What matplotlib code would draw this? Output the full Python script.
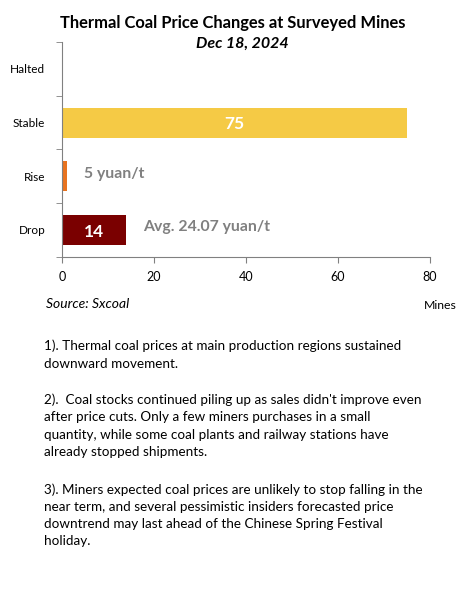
import matplotlib.pyplot as plt

categories = ['Halted', 'Stable', 'Rise', 'Drop']
mines = [0, 75, 1, 14]
bar_colors = ['#F5CA45', '#F5CA45', '#E8731F', '#7A0000']
inside_labels = ['', '75', '', '14']
side_notes = ['', '', '5 yuan/t', 'Avg. 24.07 yuan/t']
side_pos = [0, 0, 4.7, 17.6]
xticks = [0, 20, 40, 60, 80]

notes = [
    "1). Thermal coal prices at main production regions sustained\ndownward movement.",
    "2).  Coal stocks continued piling up as sales didn't improve even\nafter price cuts. Only a few miners purchases in a small\nquantity, while some coal plants and railway stations have\nalready stopped shipments.",
    "3). Miners expected coal prices are unlikely to stop falling in the\nnear term, and several pessimistic insiders forecasted price\ndowntrend may last ahead of the Chinese Spring Festival\nholiday.",
]

plt.rcParams['font.family'] = ['Lato', 'DejaVu Sans']

fig = plt.figure(figsize=(4.66, 5.93), dpi=100)
ax = fig.add_axes([0.133, 0.567, 0.79, 0.362])

ypos = list(range(len(categories)))
ax.barh(ypos, mines, height=0.56, color=bar_colors)
ax.set_ylim(3.5, -0.5)
ax.set_xlim(0, 80)
ax.set_xticks(xticks)
ax.set_yticks(ypos)
ax.set_yticklabels(categories, fontsize=8.5)
ax.set_yticks([-0.5, 0.5, 1.5, 2.5, 3.5], minor=True)
ax.tick_params(axis='y', which='major', length=0, pad=12)
ax.tick_params(axis='y', which='minor', length=4, color='#808080')
ax.tick_params(axis='x', length=4, color='#808080', labelsize=9, pad=6)
for s in ['top', 'right']:
    ax.spines[s].set_visible(False)
for s in ['left', 'bottom']:
    ax.spines[s].set_color('#808080')

for i in ypos:
    if inside_labels[i]:
        ax.text(mines[i] / 2, i + 0.03, inside_labels[i], color='white', fontsize=12.5,
                fontweight='bold', ha='center', va='center')
    if side_notes[i]:
        ax.text(side_pos[i], i - 0.05, side_notes[i], color='#808080', fontsize=11.3,
                fontweight='bold', ha='left', va='center')

fig.text(0.5, 0.962, 'Thermal Coal Price Changes at Surveyed Mines', ha='center',
         va='center', fontsize=11.9, fontweight='bold')
fig.text(0.519, 0.926, 'Dec 18, 2024', ha='center', va='center', fontsize=11.5,
         fontweight='bold', style='italic')
fig.text(0.099, 0.487, 'Source: Sxcoal', ha='left', va='center', fontsize=10, style='italic')
fig.text(0.91, 0.484, 'Mines', ha='left', va='center', fontsize=8.8)

note_tops = [0.427, 0.336, 0.185]
for n, y in zip(notes, note_tops):
    fig.text(0.094, y, n, ha='left', va='top', fontsize=9.7, linespacing=1.52)

fig.savefig('out.png', dpi=100)
